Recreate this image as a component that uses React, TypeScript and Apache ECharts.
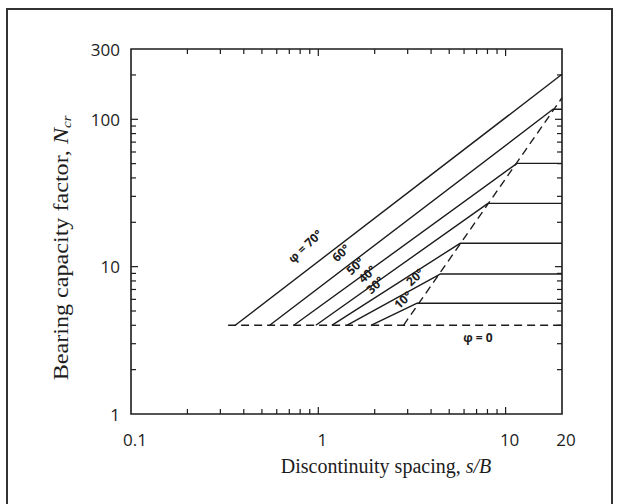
import React, { useEffect, useRef } from 'react';
import * as echarts from 'echarts';

// ---- data ----
const phiLabels = ['φ = 70°', '60°', '50°', '40°', '30°', '20°', '10°'];
const baseNcr = 4; // phi = 0 level
const startSpacing = [0.36, 0.55, 0.74, 0.97, 1.18, 1.42, 1.91];
const plateauSpacing = [20, 17.9, 11.5, 8.05, 5.71, 4.47, 3.35];
const plateauNcr = [202, 117, 50.2, 26.9, 14.4, 8.91, 5.64];
const phiZeroStartSpacing = 0.33;
const limitSpacing = [2.85, 20];
const limitNcr = [4, 140];
const xTickLabels = [0.1, 1, 10, 20];
const yTickLabels = [1, 10, 100, 300];
const xMajorTicks = [1, 10];
const xMinorTicks = [0.2, 0.3, 0.4, 0.5, 0.6, 0.7, 0.8, 0.9, 2, 3, 4, 5, 6, 7, 8, 9];
const yMajorTicks = [10, 100];
const yMinorTicks = [2, 3, 4, 5, 6, 7, 8, 9, 20, 30, 40, 50, 60, 70, 80, 90, 200];
const labelAnchorX = [0.849, 1.32, 1.57, 1.82, 2.01, 3.28, 2.83];
const labelAnchorY = [13.8, 12.4, 10.1, 8.9, 7.5, 8.5, 5.94];
const phiZeroLabel = 'φ = 0';
const phiZeroAnchor = [7.12, 3.28];

const X_MIN = 0.1, X_MAX = 20, Y_MIN = 1, Y_MAX = 300;
const INK = '#1c1c1c';
const SANS = '"Open Sans", "Noto Sans", sans-serif';
const SERIF = '"Liberation Serif", "DejaVu Serif", serif';

export default function App() {
  const ref = useRef<HTMLDivElement>(null);
  useEffect(() => {
    document.body.style.margin = '0';
    const chart = echarts.init(ref.current as HTMLDivElement, null, { renderer: 'svg' });

    const curveSeries: any[] = phiLabels.map((name, i) => {
      const pts: number[][] = [[startSpacing[i], baseNcr], [plateauSpacing[i], plateauNcr[i]]];
      if (plateauSpacing[i] < X_MAX) pts.push([X_MAX, plateauNcr[i]]);
      return {
        type: 'line', name, data: pts, showSymbol: false, silent: true,
        lineStyle: { color: INK, width: 1.4 },
      };
    });

    const tickSeries = (values: number[], axis: 'x' | 'y', len: number) => ({
      type: 'custom', clip: false, silent: true,
      data: values.map((v) => (axis === 'x' ? [v, Y_MIN] : [X_MIN, v])),
      renderItem: (_p: any, api: any) => {
        const style = { stroke: INK, lineWidth: 1.2 };
        if (axis === 'x') {
          const v = api.value(0);
          const b = api.coord([v, Y_MIN]);
          const t = api.coord([v, Y_MAX]);
          return {
            type: 'group', children: [
              { type: 'line', shape: { x1: b[0], y1: b[1], x2: b[0], y2: b[1] - len }, style },
              { type: 'line', shape: { x1: t[0], y1: t[1], x2: t[0], y2: t[1] + len }, style },
            ],
          };
        }
        const v = api.value(1);
        const l = api.coord([X_MIN, v]);
        const r = api.coord([X_MAX, v]);
        return {
          type: 'group', children: [
            { type: 'line', shape: { x1: l[0], y1: l[1], x2: l[0] + len, y2: l[1] }, style },
            { type: 'line', shape: { x1: r[0], y1: r[1], x2: r[0] - len, y2: r[1] }, style },
          ],
        };
      },
    });

    const xLabelSeries = {
      type: 'custom', clip: false, silent: true,
      data: xTickLabels.map((v) => [v, Y_MIN]),
      renderItem: (_p: any, api: any) => {
        const v = api.value(0);
        const p = api.coord([v, Y_MIN]);
        return {
          type: 'text', x: p[0] + 4, y: p[1] + 25,
          style: { text: String(v), fill: INK, fontSize: 17, fontFamily: SANS, align: 'center', verticalAlign: 'middle' },
        };
      },
    };
    const yLabelSeries = {
      type: 'custom', clip: false, silent: true,
      data: yTickLabels.map((v) => [X_MIN, v]),
      renderItem: (_p: any, api: any) => {
        const v = api.value(1);
        const p = api.coord([X_MIN, v]);
        return {
          type: 'text', x: p[0] - 11, y: p[1],
          style: { text: String(v), fill: INK, fontSize: 17, fontFamily: SANS, align: 'right', verticalAlign: 'middle' },
        };
      },
    };
    const phiLabelSeries = {
      type: 'custom', clip: false, silent: true,
      data: phiLabels.map((_, i) => [labelAnchorX[i], labelAnchorY[i], i]),
      renderItem: (_p: any, api: any) => {
        const i = api.value(2);
        const p = api.coord([api.value(0), api.value(1)]);
        return {
          type: 'text', x: p[0], y: p[1], rotation: (43 * Math.PI) / 180,
          style: { text: phiLabels[i], fill: INK, fontSize: 12, fontWeight: 'bold', fontFamily: SANS, align: 'center', verticalAlign: 'middle' },
        };
      },
    };
    const phiZeroSeries = {
      type: 'custom', clip: false, silent: true,
      data: [phiZeroAnchor],
      renderItem: (_p: any, api: any) => {
        const p = api.coord([api.value(0), api.value(1)]);
        return {
          type: 'text', x: p[0], y: p[1],
          style: { text: phiZeroLabel, fill: INK, fontSize: 12, fontWeight: 'bold', fontFamily: SANS, align: 'center', verticalAlign: 'middle' },
        };
      },
    };

    chart.setOption({
      animation: false,
      backgroundColor: '#ffffff',
      grid: { left: 131, top: 49, width: 431, height: 365, show: true, borderColor: INK, borderWidth: 1.6, backgroundColor: 'transparent' },
      xAxis: {
        type: 'log', logBase: 10, min: X_MIN, max: X_MAX,
        axisLine: { show: false }, axisTick: { show: false }, axisLabel: { show: false }, splitLine: { show: false },
      },
      yAxis: {
        type: 'log', logBase: 10, min: Y_MIN, max: Y_MAX,
        axisLine: { show: false }, axisTick: { show: false }, axisLabel: { show: false }, splitLine: { show: false },
      },
      graphic: [
        { type: 'rect', shape: { x: 7, y: 9, width: 605, height: 520 }, style: { fill: 'none', stroke: '#333', lineWidth: 2 } },
        {
          type: 'text', x: 386, y: 466,
          style: {
            text: '{n|Discontinuity spacing, }{i|s/B}',
            align: 'center', verticalAlign: 'middle',
            rich: {
              n: { fontSize: 20, fontFamily: SERIF, fill: INK },
              i: { fontSize: 20, fontFamily: SERIF, fontStyle: 'italic', fill: INK },
            },
          },
        },
        {
          type: 'text', x: 62, y: 248, rotation: Math.PI / 2, scaleX: 1.15,
          style: {
            text: '{n|Bearing capacity factor, }{i|N}{s|cr}',
            align: 'center', verticalAlign: 'middle',
            rich: {
              n: { fontSize: 21, fontFamily: SERIF, fill: INK, verticalAlign: 'top' },
              i: { fontSize: 21, fontFamily: SERIF, fontStyle: 'italic', fill: INK, verticalAlign: 'top' },
              s: { fontSize: 13, fontFamily: SERIF, fontStyle: 'italic', fill: INK, verticalAlign: 'top', padding: [10, 0, 0, 0] },
            },
          },
        },
      ],
      series: [
        ...curveSeries,
        {
          type: 'line', name: 'phi0', data: [[phiZeroStartSpacing, baseNcr], [X_MAX, baseNcr]], showSymbol: false, silent: true,
          lineStyle: { color: INK, width: 1.5, type: [8, 5] },
        },
        {
          type: 'line', name: 'limit', data: limitSpacing.map((x, i) => [x, limitNcr[i]]), showSymbol: false, silent: true,
          lineStyle: { color: INK, width: 1.4, type: [8, 5] },
        },
        tickSeries(xMajorTicks, 'x', 7),
        tickSeries(xMinorTicks, 'x', 5),
        tickSeries(yMajorTicks, 'y', 7),
        tickSeries(yMinorTicks, 'y', 5),
        xLabelSeries,
        yLabelSeries,
        phiLabelSeries,
        phiZeroSeries,
      ],
    });
    return () => chart.dispose();
  }, []);
  return <div ref={ref} style={{ position: 'fixed', left: 0, top: 0, width: 619, height: 504 }} />;
}
